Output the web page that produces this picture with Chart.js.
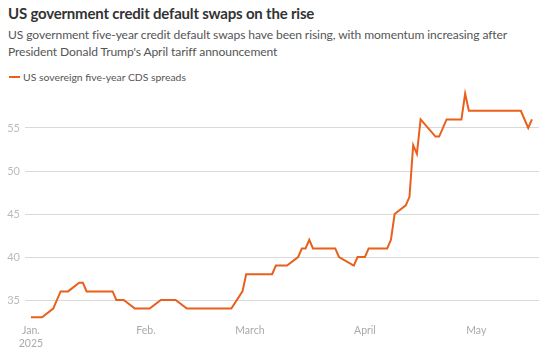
<!DOCTYPE html>
<html>
<head>
<meta charset="utf-8">
<script src="https://cdn.jsdelivr.net/npm/chart.js@4"></script>
<style>
  html, body { margin: 0; padding: 0; background: #fff; }
  body { width: 550px; height: 353px; position: relative; overflow: hidden; font-family: Lato, "Liberation Sans", sans-serif; }
  #title { position: absolute; left: 8px; top: 4px; font-size: 15px; font-weight: 700; color: #333; white-space: nowrap; letter-spacing: -0.2px; }
  #sub { position: absolute; left: 8px; top: 26px; font-size: 12.1px; line-height: 17px; color: #555; width: 540px; letter-spacing: -0.1px; }
  #legend { position: absolute; left: 9px; top: 71px; font-size: 10.4px; color: #555; white-space: nowrap; }
  #legend .sw { display: inline-block; width: 11px; height: 2px; background: #e8601c; vertical-align: middle; margin-right: 3px; position: relative; top: -1px; }
  #wrap { position: absolute; left: 0; top: 0; width: 550px; height: 353px; }
</style>
</head>
<body>
<div id="title">US government credit default swaps on the rise</div>
<div id="sub">US government five-year credit default swaps have been rising, with momentum increasing after<br>President Donald Trump's April tariff announcement</div>
<div id="legend"><span class="sw"></span>US sovereign five-year CDS spreads</div>
<div id="wrap"><canvas id="c" width="550" height="353"></canvas></div>
<script>
// Data (dates of line vertices, 2025)
const dates = ['2025-01-01','2025-01-04','2025-01-07','2025-01-09','2025-01-11','2025-01-14','2025-01-15','2025-01-16',
  '2025-01-23','2025-01-24','2025-01-26','2025-01-29','2025-02-02','2025-02-05','2025-02-09','2025-02-12','2025-02-24',
  '2025-02-27','2025-02-28','2025-03-07','2025-03-08','2025-03-11','2025-03-14','2025-03-15','2025-03-16','2025-03-17',
  '2025-03-18','2025-03-24','2025-03-25','2025-03-29','2025-03-30','2025-04-01','2025-04-02','2025-04-07','2025-04-08',
  '2025-04-09','2025-04-12','2025-04-13','2025-04-14','2025-04-15','2025-04-16','2025-04-20','2025-04-21','2025-04-23',
  '2025-04-27','2025-04-28','2025-04-29','2025-05-13','2025-05-15','2025-05-16'];
const cdsSpreads = [33,33,34,36,36,37,37,36,
  36,35,35,34,34,35,35,34,34,
  36,38,38,39,39,40,41,41,42,
  41,41,40,39,40,40,41,41,42,
  45,46,47,53,52,56,54,54,56,
  56,59,57,57,55,56];
const seriesLabel = 'US sovereign five-year CDS spreads';
const monthTickDates = ['2025-01-01','2025-02-01','2025-03-01','2025-04-01','2025-05-01'];
const monthTickLabels = [['Jan.','2025'],'Feb.','March','April','May'];
const yTicks = [35,40,45,50,55];

const base = Date.UTC(2025,0,1);
const dayNum = s => { const [y,m,d] = s.split('-').map(Number); return (Date.UTC(y,m-1,d)-base)/86400000; };
const points = dates.map((d,i) => ({x: dayNum(d), y: cdsSpreads[i]}));
const monthTicks = monthTickDates.map(dayNum);

new Chart(document.getElementById('c'), {
  type: 'line',
  data: { datasets: [{
    label: seriesLabel, data: points,
    borderColor: '#e8601c', borderWidth: 2, pointRadius: 0, tension: 0, fill: false
  }]},
  options: {
    responsive: false, animation: false,
    layout: { padding: { top: 85, left: 0, right: 11, bottom: 0 } },
    plugins: { legend: { display: false }, tooltip: { enabled: false } },
    scales: {
      x: {
        type: 'linear', min: -1.6, max: 136.9,
        afterBuildTicks: s => { s.ticks = monthTicks.map(v => ({value: v})); },
        afterFit: s => { s.height = 31.5; },
        grid: { display: false, drawTicks: false },
        border: { display: false },
        ticks: {
          autoSkip: false, maxRotation: 0, padding: 3, color: '#aaa',
          font: { family: 'Lato', size: 10.5 },
          callback: (v) => { const i = monthTicks.indexOf(v); return i >= 0 ? monthTickLabels[i] : ''; }
        }
      },
      y: {
        min: 32.5, max: 60,
        afterBuildTicks: s => { s.ticks = yTicks.map(v => ({value: v})); },
        afterFit: s => { s.width = 25; },
        grid: { color: '#d9d9d9', lineWidth: 1, drawTicks: false },
        border: { display: false },
        ticks: { padding: 5, color: '#bbb', font: { family: 'Lato', size: 11 } }
      }
    }
  }
});
</script>
</body>
</html>
